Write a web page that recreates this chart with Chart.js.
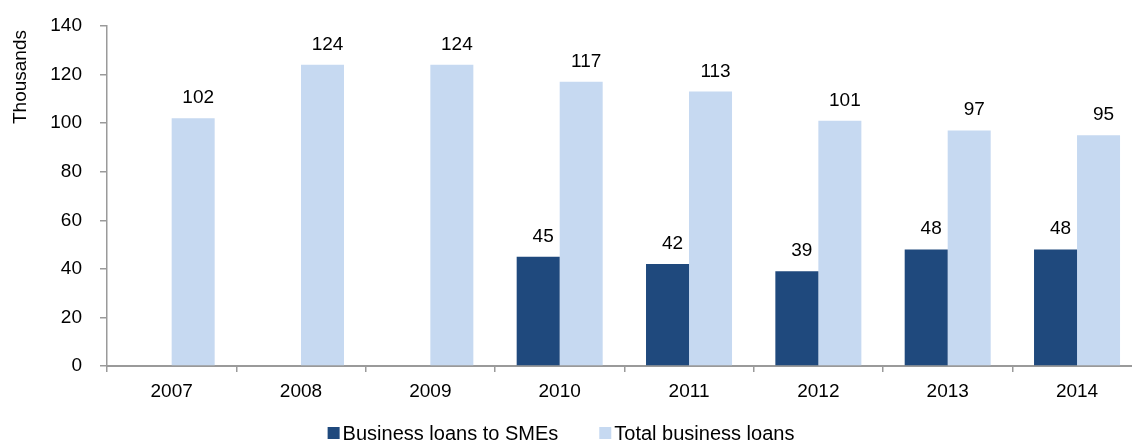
<!DOCTYPE html>
<html>
<head>
<meta charset="utf-8">
<script src="https://cdn.jsdelivr.net/npm/chart.js@4/dist/chart.umd.min.js"></script>
<style>
  html, body { margin: 0; padding: 0; background: #fff; overflow: hidden; }
  #wrap { width: 1150px; height: 443px; }
</style>
</head>
<body>
<div id="wrap"><canvas id="loansChart" width="1150" height="443"></canvas></div>
<script>
const years = ["2007", "2008", "2009", "2010", "2011", "2012", "2013", "2014"];
const smeLoans = [null, null, null, 45, 42, 39, 48, 48];
const totalLoans = [102, 124, 124, 117, 113, 101, 97, 95];
const yTicks = [0, 20, 40, 60, 80, 100, 120, 140];

const FONT = "'Liberation Sans', Arial, sans-serif";
const AXIS_GREY = "#9a9a9a";

// Etiquetas de valor acima das barras (estilo Excel, um pouco deslocadas à direita).
const valueLabels = {
  id: "valueLabels",
  afterDatasetsDraw(chart){
    const { ctx } = chart;
    ctx.save();
    ctx.font = "19px " + FONT;
    ctx.fillStyle = "#000";
    ctx.textAlign = "center";
    ctx.textBaseline = "alphabetic";
    chart.data.datasets.forEach((ds, i) => {
      chart.getDatasetMeta(i).data.forEach((bar, j) => {
        const v = ds.data[j];
        if (v == null) return;
        ctx.fillText(String(v), bar.x + 5, bar.y - 15);
      });
    });
    ctx.restore();
  }
};

// Título do eixo Y no topo + legenda compacta (quadrado colado no texto), como no original.
const extras = {
  id: "extras",
  afterDraw(chart){
    const { ctx } = chart;
    ctx.save();
    ctx.font = "19px " + FONT;
    ctx.fillStyle = "#000";
    ctx.textAlign = "center";
    ctx.textBaseline = "middle";
    ctx.translate(21, 77);
    ctx.rotate(-Math.PI / 2);
    ctx.fillText("Thousands", 0, 0);
    ctx.restore();

    ctx.save();
    ctx.font = "20px " + FONT;
    ctx.textBaseline = "middle";
    ctx.textAlign = "left";
    const items = chart.data.datasets.map(ds => ({ text: ds.label, color: ds.backgroundColor, w: ctx.measureText(ds.label).width }));
    const box = 12, gap = 3, between = 41;
    const total = items.reduce((s, it) => s + box + gap + it.w, 0) + between * (items.length - 1);
    let x = 561 - total / 2;
    const cy = 434;
    items.forEach(it => {
      ctx.fillStyle = it.color;
      ctx.fillRect(x, cy - box / 2 - 1, box, box);
      ctx.fillStyle = "#000";
      ctx.fillText(it.text, x + box + gap, cy);
      x += box + gap + it.w + between;
    });
    ctx.restore();
  }
};

new Chart(document.getElementById("loansChart"), {
  type: "bar",
  data: {
    labels: years,
    datasets: [
      { label: "Business loans to SMEs", data: smeLoans, backgroundColor: "#1F497D", categoryPercentage: 0.665, barPercentage: 1 },
      { label: "Total business loans", data: totalLoans, backgroundColor: "#C6D9F1", categoryPercentage: 0.665, barPercentage: 1 },
    ],
  },
  options: {
    responsive: false,
    animation: false,
    layout: { padding: { left: 6, right: 8.3, top: 26, bottom: 0 } },
    plugins: {
      tooltip: { enabled: false },
      legend: { display: false },
    },
    scales: {
      x: {
        grid: { offset: true, drawOnChartArea: false, drawTicks: true, tickLength: 6, color: AXIS_GREY, lineWidth: 1.5 },
        border: { display: true, color: AXIS_GREY, width: 2 },
        ticks: { color: "#000", padding: 8, font: { size: 19, family: FONT } },
        afterFit: s => { s.height = 77; },
      },
      y: {
        min: 0,
        max: 140,
        afterBuildTicks: s => { s.ticks = yTicks.map(v => ({ value: v })); },
        grid: { drawOnChartArea: false, drawTicks: true, tickLength: 7, color: AXIS_GREY, lineWidth: 1.5 },
        border: { display: true, color: AXIS_GREY, width: 1.5 },
        ticks: { color: "#000", padding: 18, font: { size: 19, family: FONT } },
        afterFit: s => { s.width = 101; s.paddingTop = 12; s.paddingBottom = 12; },
      },
    },
  },
  plugins: [valueLabels, extras],
});
</script>
</body>
</html>
